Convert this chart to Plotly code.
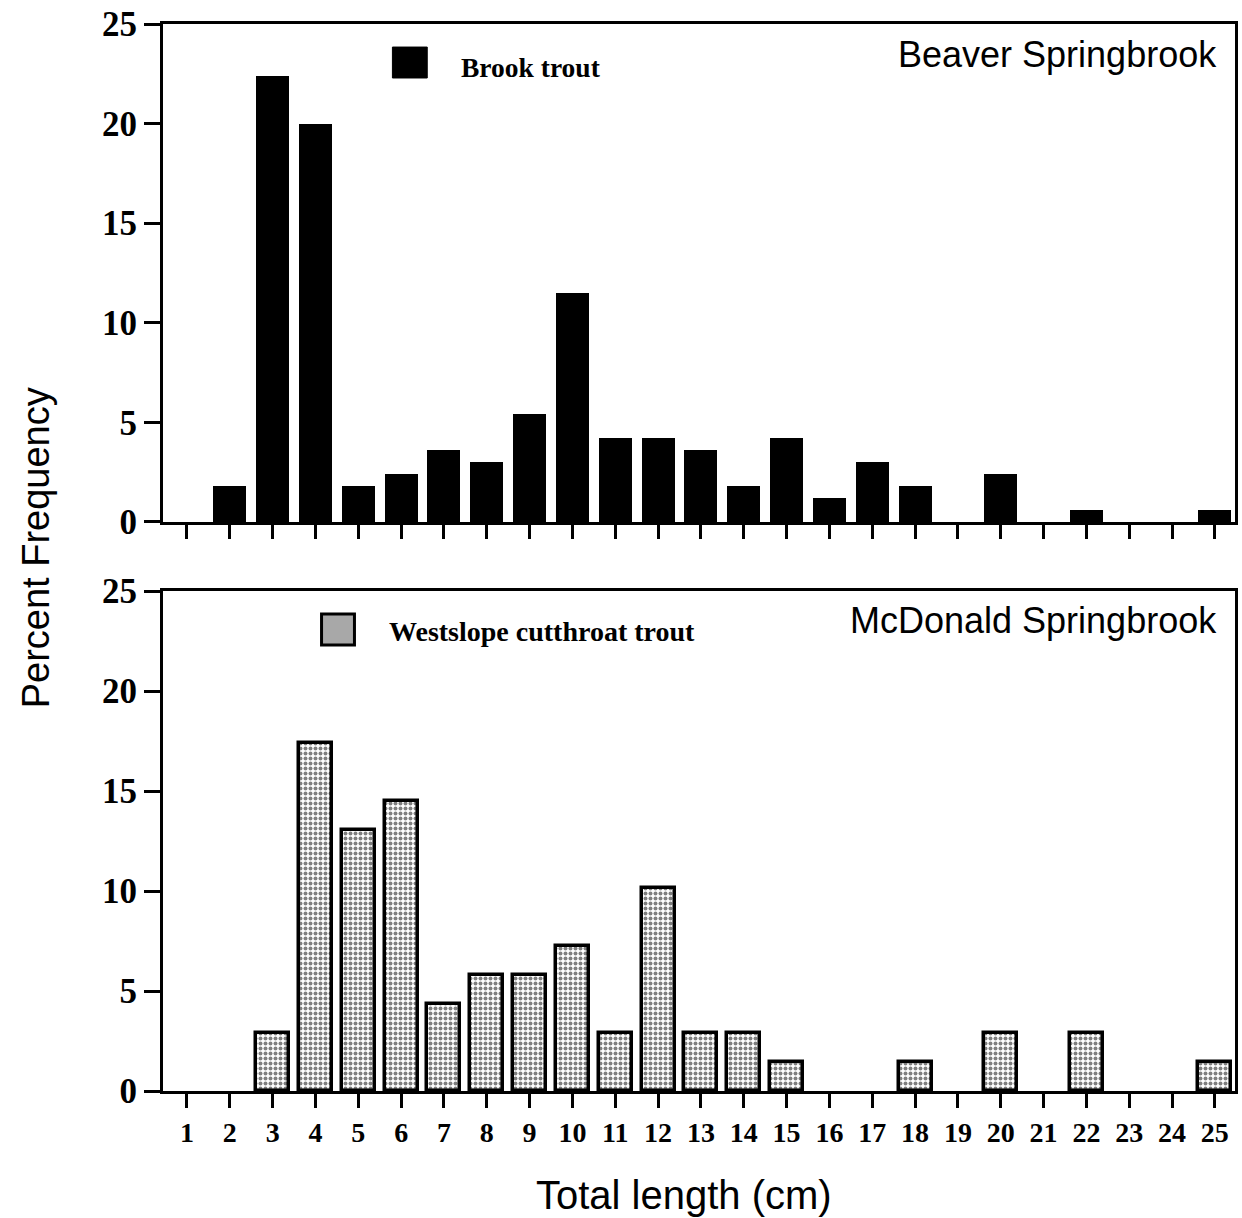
import plotly.graph_objects as go
from plotly.subplots import make_subplots

lengths = list(range(1, 26))
brook_trout = [0, 1.8, 22.4, 20.0, 1.8, 2.4, 3.6, 3.0, 5.4, 11.5, 4.2, 4.2, 3.6, 1.8, 4.2,
               1.2, 3.0, 1.8, 0, 2.4, 0, 0.6, 0, 0, 0.6]
westslope = [0, 0, 2.9, 17.39, 13.04, 14.49, 4.35, 5.8, 5.8, 7.25, 2.9, 10.14, 2.9, 2.9, 1.45,
             0, 0, 1.45, 0, 2.9, 0, 2.9, 0, 0, 1.45]
y_ticks = [0, 5, 10, 15, 20, 25]

SERIF = "Liberation Serif, Times New Roman, serif"
SANS = "Liberation Sans, Arial, Helvetica, sans-serif"


def nonzero(vals):
    return [v if v > 0 else None for v in vals]


fig = make_subplots(rows=2, cols=1, shared_xaxes=False, vertical_spacing=0.065)

fig.add_trace(go.Bar(x=lengths, y=nonzero(brook_trout), width=0.77, name="Brook trout",
                     marker=dict(color="black", line=dict(width=0)), showlegend=False),
              row=1, col=1)
fig.add_trace(go.Bar(x=lengths, y=nonzero(westslope), width=0.77, name="Westslope cutthroat trout",
                     marker=dict(color="white", line=dict(width=3.5, color="black"),
                                 pattern=dict(shape=".", fgcolor="black", bgcolor="white",
                                              size=5, solidity=0.5)),
                     showlegend=False),
              row=2, col=1)

axis_common = dict(showline=True, linewidth=3, linecolor="black", mirror=True,
                   ticks="outside", tickwidth=3, tickcolor="black", showgrid=False,
                   zeroline=False)

for r in (1, 2):
    fig.update_xaxes(range=[0.44, 25.47], tickmode="array", tickvals=lengths,
                     ticktext=[str(v) for v in lengths], ticklen=14,
                     showticklabels=(r == 2),
                     tickfont=dict(family=SERIF, size=28, color="black", weight="bold"),
                     row=r, col=1, **axis_common)
    fig.update_yaxes(range=[0, 25], tickmode="array", tickvals=y_ticks, ticklen=16,
                     tickfont=dict(family=SERIF, size=35, color="black", weight="bold"),
                     row=r, col=1, **axis_common)

fig.update_layout(
    width=1242, height=1218,
    margin=dict(l=163, r=4, t=24, b=127),
    paper_bgcolor="white", plot_bgcolor="white",
    bargap=0,
)
fig.update_layout(yaxis=dict(domain=[0.5333, 1.0]), yaxis2=dict(domain=[0.0, 0.4686]))

annotations = [
    dict(text="Percent Frequency", x=-0.119, y=0.509, xref="paper", yref="paper",
         textangle=-90, showarrow=False, xanchor="center", yanchor="middle",
         font=dict(family=SANS, size=38, color="black")),
    dict(text="Total length (cm)", x=0.4856, y=-0.0975, xref="paper", yref="paper",
         showarrow=False, xanchor="center", yanchor="middle",
         font=dict(family=SANS, size=40, color="black")),
    dict(text="Beaver Springbrook", x=0.985, y=0.971, xref="paper", yref="paper",
         showarrow=False, xanchor="right", yanchor="middle",
         font=dict(family=SANS, size=36, color="black")),
    dict(text="McDonald Springbrook", x=0.985, y=0.4414, xref="paper", yref="paper",
         showarrow=False, xanchor="right", yanchor="middle",
         font=dict(family=SANS, size=36, color="black")),
    dict(text="<b>Brook trout</b>", x=0.2763, y=0.9597, xref="paper", yref="paper",
         showarrow=False, xanchor="left", yanchor="middle",
         font=dict(family=SERIF, size=27.5, color="black")),
    dict(text="<b>Westslope cutthroat trout</b>", x=0.2093, y=0.4311, xref="paper", yref="paper",
         showarrow=False, xanchor="left", yanchor="middle",
         font=dict(family=SERIF, size=28, color="black")),
]
fig.update_layout(annotations=annotations)

shapes = [
    dict(type="rect", xref="paper", yref="paper", x0=0.2140, x1=0.2465, y0=0.9494, y1=0.9784,
         fillcolor="black", line=dict(color="black", width=1)),
    dict(type="rect", xref="paper", yref="paper", x0=0.1479, x1=0.1786, y0=0.418, y1=0.447,
         fillcolor="#a8a8a8", line=dict(color="black", width=3)),
]
fig.update_layout(shapes=shapes)

fig.write_html("out.html")
